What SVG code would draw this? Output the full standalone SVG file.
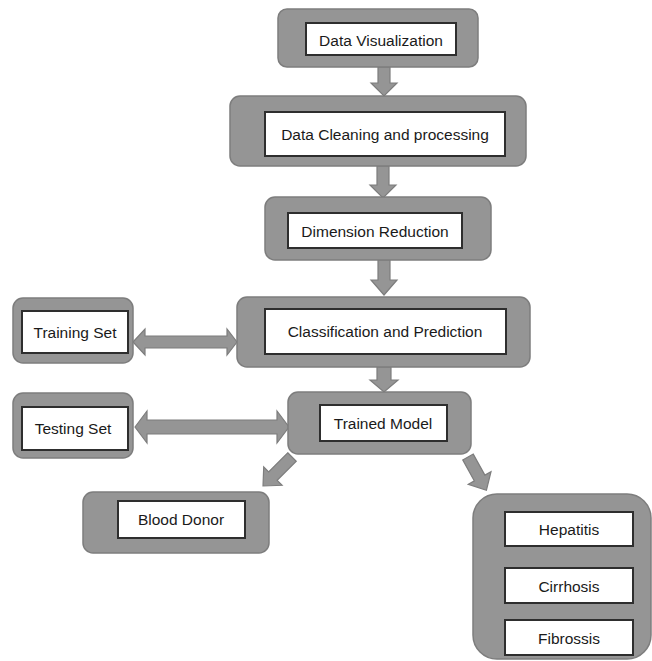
<svg xmlns="http://www.w3.org/2000/svg" width="652" height="661" viewBox="0 0 652 661">
<style>
.outer{fill:#959595;stroke:#7d7d7d;stroke-width:1.5}
.inner{fill:#ffffff;stroke:#2e2e2e;stroke-width:2}
.arr{fill:#959595;stroke:#7d7d7d;stroke-width:1.2;stroke-linejoin:miter}
text{font-family:"Liberation Sans",Arial,sans-serif;font-size:15.5px;fill:#1a1a1a;text-anchor:middle;dominant-baseline:central}
</style>
<rect width="652" height="661" fill="#ffffff"/>
<g id="connectors">
<polygon class="arr" points="378,67 390,67 390,83 397,83 384,96 371,83 378,83"/>
<polygon class="arr" points="377,166 389,166 389,185 396,185 383,198 370,185 377,185"/>
<polygon class="arr" points="378,260 390,260 390,280 397,280 384,295 371,280 378,280"/>
<polygon class="arr" points="377,367 391,367 391,380 398,380 384,392 370,380 377,380"/>
<polygon class="arr" points="133,342 145,329 145,336 227,336 227,329 237,342 227,355 227,348 145,348 145,355"/>
<polygon class="arr" points="135,427 147,411 147,420 277,420 277,411 289,427 277,443 277,434 147,434 147,443"/>
<polygon class="arr" transform="translate(292,457) rotate(45)" points="-6,0 6,0 6,27 13,27 0,41 -13,27 -6,27"/>
<polygon class="arr" transform="translate(468,457) rotate(-29)" points="-6,0 6,0 6,24 13,24 0,38 -13,24 -6,24"/>
</g>
<g id="data-visualization">
<rect class="outer" x="278" y="9" width="200" height="58" rx="9"/>
<rect class="inner" x="306" y="23" width="150" height="32"/>
<text x="381" y="40">Data Visualization</text>
</g>
<g id="data-cleaning">
<rect class="outer" x="230" y="96" width="296" height="70" rx="10"/>
<rect class="inner" x="265" y="112" width="240" height="44"/>
<text x="385" y="134">Data Cleaning and processing</text>
</g>
<g id="dimension-reduction">
<rect class="outer" x="265" y="197" width="226" height="63" rx="10"/>
<rect class="inner" x="288" y="213" width="174" height="35"/>
<text x="375" y="231">Dimension Reduction</text>
</g>
<g id="training-set">
<rect class="outer" x="13" y="298" width="120" height="65" rx="10"/>
<rect class="inner" x="22" y="311" width="106" height="42"/>
<text x="75" y="332">Training Set</text>
</g>
<g id="classification">
<rect class="outer" x="237" y="297" width="293" height="70" rx="10"/>
<rect class="inner" x="265" y="309" width="241" height="45"/>
<text x="385" y="331">Classification and Prediction</text>
</g>
<g id="testing-set">
<rect class="outer" x="13" y="393" width="120" height="65" rx="10"/>
<rect class="inner" x="22" y="407" width="106" height="43"/>
<text x="73" y="428">Testing Set</text>
</g>
<g id="trained-model">
<rect class="outer" x="288" y="392" width="183" height="62" rx="10"/>
<rect class="inner" x="320" y="405" width="127" height="36"/>
<text x="383" y="423">Trained Model</text>
</g>
<g id="blood-donor">
<rect class="outer" x="83" y="492" width="186" height="61" rx="10"/>
<rect class="inner" x="118" y="501" width="127" height="37"/>
<text x="181" y="519">Blood Donor</text>
</g>
<g id="diseases">
<rect class="outer" x="473" y="494" width="178" height="165" rx="24"/>
<rect class="inner" x="505" y="512" width="128" height="34"/>
<text x="569" y="529">Hepatitis</text>
<rect class="inner" x="505" y="568" width="128" height="35"/>
<text x="569" y="586">Cirrhosis</text>
<rect class="inner" x="505" y="620" width="128" height="35"/>
<text x="569" y="638">Fibrossis</text>
</g>
</svg>
